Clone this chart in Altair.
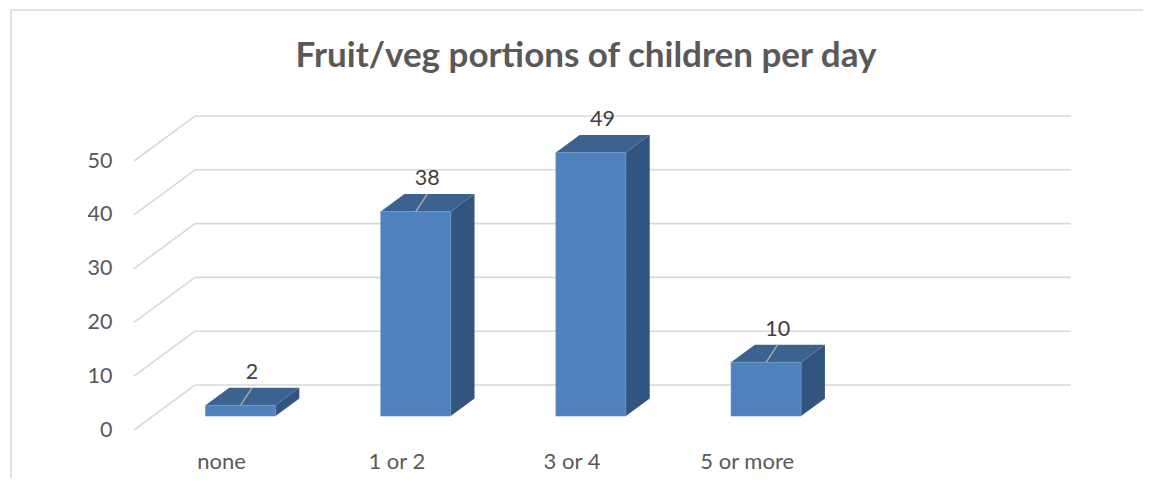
import altair as alt
import pandas as pd

# ---- data ----
categories = ["none", "1 or 2", "3 or 4", "5 or more"]
values = [2, 38, 49, 10]
y_ticks = [0, 10, 20, 30, 40, 50]
n_slots = 5  # category slots on the floor (last one empty)
leader_categories = ["none", "1 or 2", "5 or more"]

# ---- 3D projection parameters (style) ----
DX = 0.348   # full depth shift, in category slots
DY = 8.36    # full depth shift, in value units
D_FRONT = 0.31
D_BACK = 0.70
HALF = 0.2

FONT = "Lato"
FRONT_C = "#4f81bd"
TOP_C = "#3c6290"
SIDE_C = "#33547e"
GRID_C = "#d9d9d9"

bars = pd.DataFrame({"cat": categories, "value": values, "idx": list(range(len(categories)))})
faces = pd.DataFrame({
    "cat": [c for c in categories for _ in (0, 1)],
    "value": [v for v in values for _ in (0, 1)],
    "idx": [i for i in range(len(categories)) for _ in (0, 1)],
    "depth": [D_FRONT, D_BACK] * len(categories),
})
grid = pd.DataFrame({"tick": y_ticks})
frame = pd.DataFrame({"k": [0]})

xs = alt.Scale(domain=[0, n_slots], nice=False, zero=False)
ys = alt.Scale(domain=[0, 50], nice=False, zero=False)
y_axis = alt.Axis(values=y_ticks, grid=False, domain=False, ticks=False, labelPadding=22,
                  labelFont=FONT, labelFontSize=21.5, labelColor="#595959", title=None)


def X(f):
    return alt.X(f, type="quantitative", scale=xs, axis=None)


def Y(f):
    return alt.Y(f, type="quantitative", scale=ys, axis=y_axis)


# gridlines: diagonal on left wall + horizontal on back wall
diag = alt.Chart(grid).transform_calculate(
    gx="0", gx2=f"{DX}", gy2=f"datum.tick + {DY}"
).mark_rule(color=GRID_C, strokeWidth=1.6).encode(
    x=X("gx:Q"), x2="gx2:Q", y=Y("tick:Q"), y2="gy2:Q"
)
back = alt.Chart(grid).transform_calculate(
    bx=f"{DX}", bx2=f"{n_slots} + {DX}", by=f"datum.tick + {DY}"
).mark_rule(color=GRID_C, strokeWidth=1.6).encode(
    x=X("bx:Q"), x2="bx2:Q", y=Y("by:Q")
)

# bar faces
side = alt.Chart(faces).transform_calculate(
    sx=f"datum.idx + 0.5 + {HALF} + datum.depth * {DX}",
    slo=f"datum.depth * {DY}",
    shi=f"datum.value + datum.depth * {DY}",
).mark_area(fill=SIDE_C, orient="vertical").encode(
    x=X("sx:Q"), y=Y("shi:Q"), y2="slo:Q", detail="cat:N"
)
top = alt.Chart(faces).transform_calculate(
    ta=f"datum.idx + 0.5 - {HALF} + datum.depth * {DX}",
    tb=f"datum.idx + 0.5 + {HALF} + datum.depth * {DX}",
    ty=f"datum.value + datum.depth * {DY}",
).mark_area(fill=TOP_C, orient="horizontal").encode(
    y=Y("ty:Q"), x=X("ta:Q"), x2="tb:Q", detail="cat:N"
)
front = alt.Chart(bars).transform_calculate(
    fx0=f"datum.idx + 0.5 - {HALF} + {D_FRONT * DX}",
    fx1=f"datum.idx + 0.5 + {HALF} + {D_FRONT * DX}",
    fy0=f"{D_FRONT * DY}",
    fy1=f"datum.value + {D_FRONT * DY}",
).mark_rect(color=FRONT_C, stroke="#6a95cb", strokeWidth=0.6).encode(
    x=X("fx0:Q"), x2="fx1:Q", y=Y("fy0:Q"), y2="fy1:Q"
)

# leader lines and data labels
leaders = alt.Chart(bars).transform_filter(
    alt.FieldOneOfPredicate(field="cat", oneOf=leader_categories)
).transform_calculate(
    lx=f"datum.idx + 0.5 + {D_FRONT * DX}",
    ly=f"datum.value + {D_FRONT * DY}",
    lx2=f"datum.idx + 0.5 + {0.5 * DX}",
    ly2=f"datum.value + {0.5 * DY}",
).mark_rule(color="#a6a6a6", strokeWidth=1.5, y2Offset=-9).encode(
    x=X("lx:Q"), y=Y("ly:Q"), x2="lx2:Q", y2="ly2:Q"
)
labels = alt.Chart(bars).transform_calculate(
    vx=f"datum.idx + 0.5 + {0.5 * DX}",
    vy=f"datum.value + {0.5 * DY}",
).mark_text(font=FONT, fontSize=21.5, color="#404040", dy=-24, baseline="middle").encode(
    x=X("vx:Q"), y=Y("vy:Q"), text="value:Q"
)
cat_labels = alt.Chart(bars).transform_calculate(
    cx="datum.idx + 0.5", cy="0"
).mark_text(font=FONT, fontSize=22, color="#595959", dy=32, baseline="middle").encode(
    x=X("cx:Q"), y=Y("cy:Q"), text="cat:N"
)

# outer chart frame (top and left edges visible)
frame_left = alt.Chart(frame).mark_rule(color="#d9d9d9", strokeWidth=1.5).encode(
    x=alt.value(-123), y=alt.value(-151), y2=alt.value(330)
)
frame_top = alt.Chart(frame).mark_rule(color="#d9d9d9", strokeWidth=1.5).encode(
    x=alt.value(-123), x2=alt.value(1020), y=alt.value(-151)
)

chart = alt.layer(
    frame_left, frame_top, diag, back, side, top, front, leaders, labels, cat_labels
).properties(
    width=876,
    height=269,
    padding={"left": 126, "top": 153, "right": 133, "bottom": 48},
    autosize=alt.AutoSizeParams(type="none"),
    title=alt.TitleParams(
        "Fruit/veg portions of children per day",
        font=FONT, fontSize=35, fontWeight="bold", color="#595959",
        anchor="middle", dx=14, dy=69,
    ),
).configure(background="white").configure_view(stroke=None)

chart.save("out.html", embed_options={"renderer": "svg", "actions": False})
